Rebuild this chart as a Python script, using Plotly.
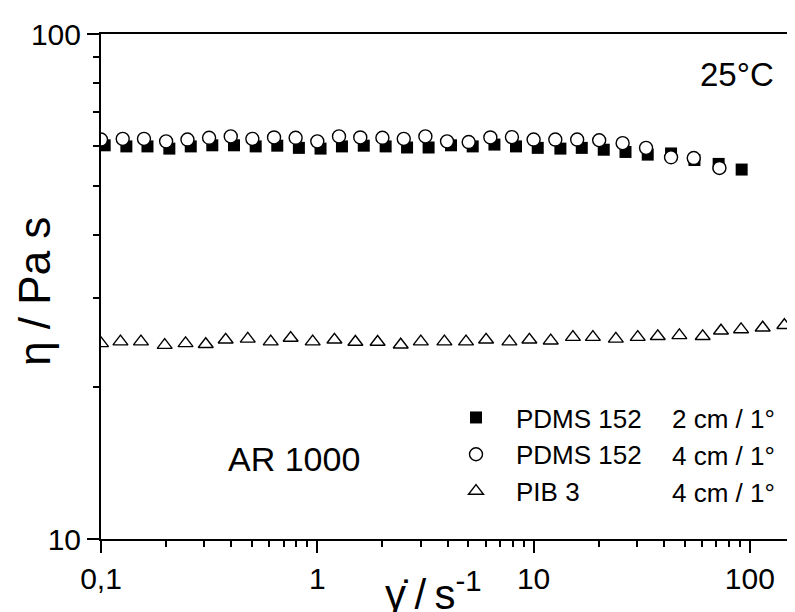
import plotly.graph_objects as go

# shear rate (1/s) and viscosity (Pa s)
pdms2_x = [0.104, 0.131, 0.164, 0.207, 0.26, 0.327, 0.412, 0.519, 0.653, 0.822,
           1.035, 1.3, 1.64, 2.07, 2.6, 3.27, 4.15, 5.23, 6.59, 8.29,
           10.45, 13.3, 16.7, 21.1, 26.6, 33.7, 43.2, 55.4, 71.7, 91.6]
pdms2_y = [60.2, 59.9, 59.9, 59.3, 59.9, 60.2, 60.2, 59.9, 60.1, 59.5,
           59.3, 59.9, 60.1, 59.9, 59.6, 59.6, 60.2, 59.9, 60.4, 59.9,
           59.5, 59.3, 59.5, 59.0, 58.4, 57.7, 58.0, 56.3, 55.3, 53.9]

pdms4_x = [0.1, 0.126, 0.158, 0.2, 0.251, 0.316, 0.398, 0.501, 0.631, 0.794,
           1.0, 1.26, 1.58, 2.0, 2.51, 3.16, 3.98, 5.01, 6.31, 7.94,
           10.0, 12.6, 15.9, 20.1, 25.8, 33.1, 43.2, 55.0, 72.3]
pdms4_y = [61.8, 62.0, 62.0, 61.3, 61.8, 62.3, 62.7, 62.0, 62.4, 62.3,
           61.3, 62.7, 62.4, 62.3, 62.0, 62.7, 61.3, 61.1, 62.4, 62.5,
           61.8, 61.8, 61.8, 61.6, 60.8, 59.5, 57.0, 56.8, 54.3]

pib_x = [0.1, 0.123, 0.153, 0.197, 0.246, 0.305, 0.377, 0.477, 0.609, 0.753,
         0.952, 1.2, 1.5, 1.9, 2.43, 3.01, 3.87, 4.87, 6.03, 7.73,
         9.56, 12.0, 15.2, 18.8, 24.0, 30.3, 37.5, 47.2, 60.5, 73.5,
         91.0, 114.6, 144.3, 171.8]
pib_y = [24.4, 24.6, 24.6, 24.2, 24.4, 24.3, 24.8, 24.9, 24.6, 25.0,
         24.6, 24.8, 24.55, 24.55, 24.25, 24.6, 24.6, 24.6, 24.8, 24.6,
         24.8, 24.7, 25.1, 25.1, 24.9, 25.1, 25.2, 25.3, 25.2, 25.85,
         26.0, 26.2, 26.5, 26.9]

series_names = ["PDMS 152", "PDMS 152", "PIB 3"]
series_geom = ["2 cm / 1°", "4 cm / 1°", "4 cm / 1°"]

x_tickvals = [0.1, 1, 10, 100]
x_ticktext = ["0,1", "1", "10", "100"]
x_minor = [0.2, 0.3, 0.4, 0.5, 0.6, 0.7, 0.8, 0.9,
           2, 3, 4, 5, 6, 7, 8, 9,
           20, 30, 40, 50, 60, 70, 80, 90]
y_tickvals = [10, 100]
y_ticktext = ["10", "100"]
y_minor = [20, 30, 40, 50, 60, 70, 80, 90]

FONT = "Liberation Sans, Arial, sans-serif"

fig = go.Figure()
fig.add_trace(go.Scatter(
    x=pdms2_x, y=pdms2_y, mode="markers", name=series_names[0],
    legendgroup="a",
    marker=dict(symbol="square", size=12, color="black",
                line=dict(color="black", width=0))))
fig.add_trace(go.Scatter(
    x=pdms4_x, y=pdms4_y, mode="markers", name=series_names[1],
    legendgroup="b",
    marker=dict(symbol="circle", size=13, color="white",
                line=dict(color="black", width=1.4))))
fig.add_trace(go.Scatter(
    x=pib_x, y=pib_y, mode="markers", name=series_names[2],
    legendgroup="c",
    marker=dict(symbol="triangle-up", size=13, color="white",
                line=dict(color="black", width=1.4))))

ann = []
legend_rows_y = [0.2372, 0.1644, 0.0915]
for txt, yy in zip(series_geom, legend_rows_y):
    ann.append(dict(x=0.8105, y=yy, xref="paper", yref="paper", text=txt,
                    showarrow=False, xanchor="left", yanchor="middle",
                    font=dict(family=FONT, size=26, color="black")))
ann.append(dict(x=0.9615, y=0.9194, xref="paper", yref="paper", text="25°C",
                showarrow=False, xanchor="right", yanchor="middle",
                font=dict(family=FONT, size=33, color="black")))
ann.append(dict(x=0.1785, y=0.1578, xref="paper", yref="paper", text="AR 1000",
                showarrow=False, xanchor="left", yanchor="middle",
                font=dict(family=FONT, size=34, color="black")))
ann.append(dict(x=0.473, y=-0.16, xref="paper", yref="paper",
                text="γ\u0307\u2009/\u2009s<sup>-1</sup>",
                showarrow=False, xanchor="center", yanchor="bottom",
                font=dict(family=FONT, size=42, color="black")))
ann.append(dict(x=-0.095, y=0.49, xref="paper", yref="paper",
                text="η / Pa s", textangle=-90,
                showarrow=False, xanchor="center", yanchor="middle",
                font=dict(family=FONT, size=44, color="black")))

fig.update_layout(
    width=795, height=612,
    margin=dict(l=93, r=0, t=26, b=81),
    paper_bgcolor="white", plot_bgcolor="white",
    font=dict(family=FONT, color="black"),
    showlegend=True,
    legend=dict(x=0.4772, y=0.287, xanchor="left", yanchor="top",
                traceorder="grouped", tracegroupgap=0, itemwidth=70,
                bgcolor="rgba(0,0,0,0)",
                font=dict(family=FONT, size=26, color="black")),
    annotations=ann,
    xaxis=dict(type="log", range=[-1, 2.2455],
               tickmode="array", tickvals=x_tickvals, ticktext=x_ticktext,
               ticks="outside", ticklen=12, tickwidth=2, tickcolor="black",
               showline=True, linecolor="black", linewidth=2, mirror=True,
               showgrid=False, zeroline=False,
               tickfont=dict(family=FONT, size=30, color="black"),
               minor=dict(tickmode="array", tickvals=x_minor, ticks="outside",
                          ticklen=6, tickwidth=1.5, tickcolor="black",
                          showgrid=False)),
    yaxis=dict(type="log", range=[1, 2],
               tickmode="array", tickvals=y_tickvals, ticktext=y_ticktext,
               ticks="outside", ticklen=12, tickwidth=2, tickcolor="black",
               showline=True, linecolor="black", linewidth=2, mirror=False,
               showgrid=False, zeroline=False,
               tickfont=dict(family=FONT, size=30, color="black"),
               minor=dict(tickmode="array", tickvals=y_minor, ticks="outside",
                          ticklen=6, tickwidth=1.5, tickcolor="black",
                          showgrid=False)),
)

fig.write_html("out.html")
